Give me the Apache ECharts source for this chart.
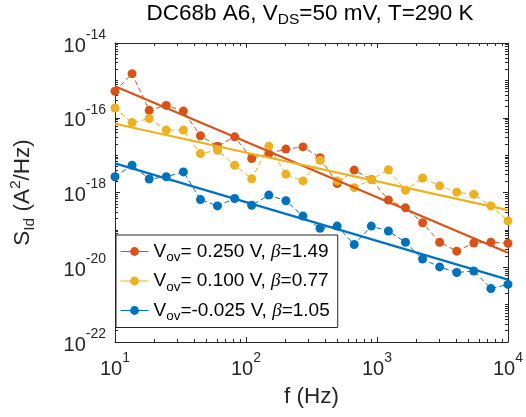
<!DOCTYPE html>
<html><head><meta charset="utf-8">
<script src="https://cdn.jsdelivr.net/npm/echarts@6/dist/echarts.min.js"></script>
<style>html,body{margin:0;padding:0;background:#fff}#c{width:526px;height:417px}</style>
</head><body><div id="c"></div>
<script>
// ---- data ----
const freq = [10, 13.5, 18.24, 24.63, 33.26, 44.9, 60.6, 81.9, 110.5, 149.3, 201.6, 272.2, 367.5, 496.3, 670.1, 904.8, 1221.8, 1649.8, 2227.6, 3008, 4061, 5484, 7405, 10000];
const sVov250 = [5.1e-16, 1.51e-15, 1.58e-16, 2.14e-16, 1.51e-16, 3.31e-17, 1.74e-17, 3.09e-17, 8.13e-18, 1.10e-17, 1.45e-17, 1.66e-17, 8.51e-18, 1.74e-18, 3.98e-18, 2.24e-18, 6.31e-19, 3.89e-19, 1.55e-19, 4.68e-20, 2.69e-20, 4.47e-20, 4.68e-20, 4.37e-20];
const sVov100 = [1.82e-16, 7.41e-17, 9.55e-17, 4.68e-17, 4.68e-17, 1.10e-17, 1.35e-17, 5.37e-18, 2.34e-18, 1.74e-17, 3.09e-18, 2.04e-18, 7.24e-18, 2.04e-18, 1.35e-18, 2.24e-18, 4.07e-18, 1.15e-18, 2.45e-18, 1.51e-18, 1.02e-18, 8.91e-19, 4.37e-19, 1.74e-19];
const sVovM025 = [2.63e-18, 5.37e-18, 2.29e-18, 2.63e-18, 3.55e-18, 6.46e-19, 4.37e-19, 6.92e-19, 4.57e-19, 8.51e-19, 6.03e-19, 2.34e-19, 1.10e-19, 1.26e-19, 4.07e-20, 1.26e-19, 9.33e-20, 4.68e-20, 1.66e-20, 1.02e-20, 7.24e-21, 7.94e-21, 2.69e-21, 3.47e-21];
const fitFreq = [10, 10000];
const fitVov250 = [6.92e-16, 2.45e-20];
const fitVov100 = [6.92e-17, 3.39e-19];
const fitVovM025 = [6.03e-18, 4.68e-21];
const legendVov = ['= 0.250 V', '= 0.100 V', '=-0.025 V'];
const legendBeta = ['1.49', '0.77', '1.05'];
const xTickVals = [10, 100, 1000, 10000];
const yTickVals = [1e-22, 1e-20, 1e-18, 1e-16, 1e-14];
const colors = ['#D95319', '#EDB120', '#0072BD'];

// minor tick values (2..9 x 10^n, plus unlabeled decades)
function minorVals(loExp, hiExp, majors) {
  const out = [];
  for (let e = loExp; e < hiExp; e++) {
    for (let k = 1; k <= 9; k++) {
      const v = k * Math.pow(10, e);
      if (!majors.some(m => Math.abs(m - v) / m < 1e-9)) out.push(v);
    }
  }
  return out;
}
const xMinor = minorVals(1, 4, xTickVals);
const yMinor = minorVals(-22, -14, yTickVals);

const FF = 'Liberation Sans, Arial, Helvetica';
const AX = '#262626';
const labelRich = {
  b: {fontSize: 20, fontFamily: FF, color: AX, lineHeight: 30, padding: [6, 0, 0, 0]},
  s: {fontSize: 14, fontFamily: FF, color: AX, verticalAlign: 'top', lineHeight: 16}
};
function expLabel(v) {
  const e = Math.round(Math.log10(v));
  return '{b|10}{s|' + e + '}';
}
function xAx(pos, ticks, len, showLine, showLabel) {
  return {
    type: 'log', logBase: 10, min: 10, max: 10000, position: pos, gridIndex: 0,
    axisLine: {show: showLine, onZero: false, lineStyle: {color: AX, width: 1}},
    axisTick: {show: true, inside: true, length: len, customValues: ticks, lineStyle: {color: AX, width: 1}},
    axisLabel: {show: showLabel, customValues: xTickVals, formatter: expLabel, rich: labelRich, margin: 9},
    splitLine: {show: false}, minorTick: {show: false}
  };
}
function yAx(pos, ticks, len, showLine, showLabel) {
  return {
    type: 'log', logBase: 10, min: 1e-22, max: 1e-14, position: pos, gridIndex: 0,
    axisLine: {show: showLine, onZero: false, lineStyle: {color: AX, width: 1}},
    axisTick: {show: true, inside: true, length: len, customValues: ticks, lineStyle: {color: AX, width: 1}},
    axisLabel: {show: showLabel, customValues: yTickVals, formatter: expLabel, rich: labelRich, margin: 9},
    splitLine: {show: false}, minorTick: {show: false}
  };
}

const xAxes = [
  xAx('bottom', xTickVals, 5, true, true),
  xAx('bottom', xMinor, 3, false, false),
  xAx('top', xTickVals, 5, true, false),
  xAx('top', xMinor, 3, false, false)
];
Object.assign(xAxes[0], {
  name: 'f (Hz)', nameLocation: 'middle', nameGap: 43,
  nameTextStyle: {fontSize: 22.5, fontFamily: FF, color: AX}
});
const yAxes = [
  yAx('left', yTickVals, 5, true, true),
  yAx('left', yMinor, 3, false, false),
  yAx('right', yTickVals, 5, true, false),
  yAx('right', yMinor, 3, false, false)
];
Object.assign(yAxes[0], {
  name: '{t|S}{sub|Id}{t| (A}{sup|2}{t|/Hz)}', nameLocation: 'middle', nameGap: 77, nameRotate: 90,
  nameTextStyle: {
    fontSize: 22.5, fontFamily: FF, color: AX,
    rich: {
      t: {fontSize: 22.5, fontFamily: FF, color: AX, lineHeight: 30},
      sub: {fontSize: 15.5, fontFamily: FF, color: AX, verticalAlign: 'bottom', lineHeight: 16},
      sup: {fontSize: 15.5, fontFamily: FF, color: AX, verticalAlign: 'top', lineHeight: 16}
    }
  }
});

const names = ['Vov250', 'Vov100', 'VovM025'];
const dataSets = [sVov250, sVov100, sVovM025];
const fits = [fitVov250, fitVov100, fitVovM025];
const series = [];
dataSets.forEach((arr, k) => {
  series.push({
    name: names[k], type: 'line', xAxisIndex: 0, yAxisIndex: 0,
    data: freq.map((f, i) => [f, arr[i]]),
    symbol: 'circle', symbolSize: 9, showSymbol: true,
    itemStyle: {color: colors[k]},
    lineStyle: {color: colors[k], width: 1, type: [5, 3]},
    emphasis: {disabled: true}, z: 2 + k
  });
});
fits.forEach((arr, k) => {
  series.push({
    name: names[k] + 'fit', type: 'line', xAxisIndex: 0, yAxisIndex: 0,
    data: fitFreq.map((f, i) => [f, arr[i]]),
    symbol: 'none', lineStyle: {color: colors[k], width: 2.2, type: 'solid'},
    emphasis: {disabled: true}, z: 6
  });
});

const legendRich = {
  t: {fontSize: 19, fontFamily: FF, color: '#000', lineHeight: 26},
  sub: {fontSize: 13.5, fontFamily: FF, color: '#000', verticalAlign: 'bottom', lineHeight: 14},
  it: {fontSize: 19, fontFamily: 'Liberation Serif, Times New Roman', fontStyle: 'italic', color: '#000', lineHeight: 26}
};

const chart = echarts.init(document.getElementById('c'), null, {renderer: 'canvas'});
chart.setOption({
  animation: false,
  backgroundColor: '#fff',
  title: {
    text: '{t|DC68b A6, V}{sub|DS}{t|=50 mV, T=290 K}',
    left: 310, top: 0, textAlign: 'center', padding: 0,
    textStyle: {
      fontWeight: 'normal',
      rich: {
        t: {fontSize: 22.5, fontWeight: 'normal', fontFamily: FF, color: '#000', lineHeight: 28},
        sub: {fontSize: 15.5, fontWeight: 'normal', fontFamily: FF, color: '#000', verticalAlign: 'bottom', lineHeight: 16}
      }
    }
  },
  grid: {left: 112, right: 18, top: 43, bottom: 75, containLabel: false},
  xAxis: xAxes,
  yAxis: yAxes,
  legend: {
    orient: 'vertical', left: 116, top: 235,
    data: names,
    itemWidth: 28, itemHeight: 11, itemGap: 7,
    padding: [7, 8, 4, 4],
    borderColor: AX, borderWidth: 1, backgroundColor: '#fff',
    lineStyle: {type: 'solid', width: 1},
    selectedMode: false,
    formatter: function (name) {
      const k = names.indexOf(name);
      return '{t|V}{sub|ov}{t|' + legendVov[k] + ', }{it|β}{t|=' + legendBeta[k] + '}';
    },
    textStyle: {rich: legendRich}
  },
  series: series
});
</script>
</body></html>
